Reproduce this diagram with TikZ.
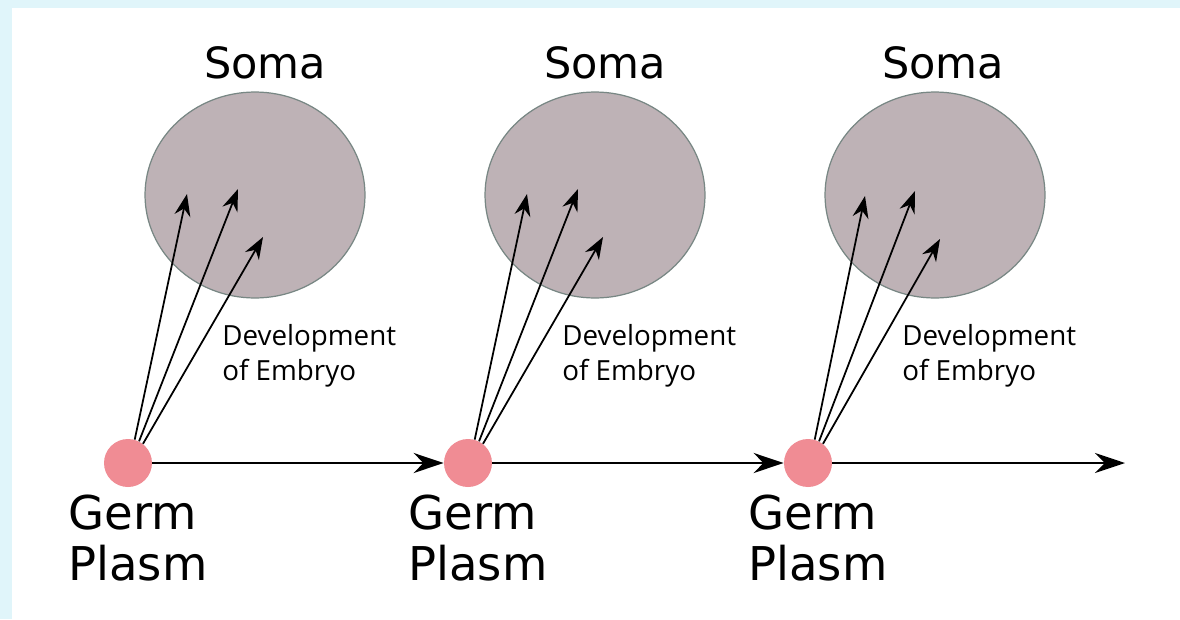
\documentclass[tikz,border=0pt]{standalone}
\usepackage{fontspec}
\setmainfont{DejaVu Sans}
\newfontfamily\abierta{Open Sans}
\usetikzlibrary{positioning,arrows.meta,shapes.geometric,calc}
\definecolor{soma}{RGB}{190,178,182}
\definecolor{bordesoma}{RGB}{120,135,132}
\definecolor{germen}{RGB}{240,140,148}
\definecolor{marco}{RGB}{224,245,250}

\begin{document}
\begin{tikzpicture}[x=0.02cm, y=-0.02cm,
  cuerpo/.style={ellipse, draw=bordesoma, fill=soma, line width=0.7pt,
                 minimum width=4.4cm, minimum height=4.12cm, inner sep=0pt},
  punto/.style={circle, fill=germen, minimum size=0.96cm, inner sep=0pt},
  titulo/.style={font=\fontsize{24.5}{28}\selectfont, anchor=base,
                 inner sep=0pt},
  nombre/.style={font=\fontsize{26.5}{28.5}\selectfont, align=left,
                 anchor=base west, inner sep=0pt},
  expl/.style={font=\abierta\fontsize{15.8}{19.9}\selectfont, align=left,
               anchor=base west, inner sep=0pt},
  linea/.style={-{Stealth[length=6mm, width=4mm]}, line width=1.4pt},
  flecha/.style={-{Stealth[length=4.4mm, width=3.2mm]}, line width=1pt}]
  \useasboundingbox (0,0) rectangle (1180,619);
  \fill[white] (0,0) rectangle (1180,619);
  \fill[marco] (0,0) rectangle (1180,8);
  \fill[marco] (0,0) rectangle (12,619);
  % cuerpos
  \node[cuerpo] (s1) at (255,195) {};
  \node[cuerpo] (s2) at (595,195) {};
  \node[cuerpo] (s3) at (935,195) {};
  \node[titulo] (t1) at (265,78) {Soma};
  \node[titulo] (t2) at (605,78) {Soma};
  \node[titulo] (t3) at (943,78) {Soma};
  % plasma germinal
  \node[punto] (g1) at (128,463) {};
  \node[punto] (g2) at (468,463) {};
  \node[punto] (g3) at (808,463) {};
  \node[nombre] (n1) at (68,580)  {Germ\\Plasm};
  \node[nombre] (n2) at (408,580) {Germ\\Plasm};
  \node[nombre] (n3) at (748,580) {Germ\\Plasm};
  \node[expl] (e1) at (222,380) {Development\\of Embryo};
  \node[expl] (e2) at (562,380) {Development\\of Embryo};
  \node[expl] (e3) at (902,380) {Development\\of Embryo};
  \coordinate (fin) at (1125,463);
  \draw[linea] (g1.east) -- (g2.west);
  \draw[linea] (g2.east) -- (g3.west);
  \draw[linea] (g3.east) -- (fin);
  % desarrollo
  \coordinate (a1) at ($(g1)+(59,-269)$);
  \coordinate (b1) at ($(g1)+(110,-274)$);
  \coordinate (c1) at ($(g1)+(135,-226)$);
  \coordinate (a2) at ($(g2)+(59,-269)$);
  \coordinate (b2) at ($(g2)+(110,-274)$);
  \coordinate (c2) at ($(g2)+(135,-226)$);
  \coordinate (a3) at ($(g3)+(57,-267)$);
  \coordinate (b3) at ($(g3)+(107,-272)$);
  \coordinate (c3) at ($(g3)+(132,-224)$);
  \draw[flecha] (g1.74) -- (a1);
  \draw[flecha] (g1.63) -- (b1);
  \draw[flecha] (g1.52) -- (c1);
  \draw[flecha] (g2.74) -- (a2);
  \draw[flecha] (g2.63) -- (b2);
  \draw[flecha] (g2.52) -- (c2);
  \draw[flecha] (g3.74) -- (a3);
  \draw[flecha] (g3.63) -- (b3);
  \draw[flecha] (g3.52) -- (c3);
\end{tikzpicture}
\end{document}
